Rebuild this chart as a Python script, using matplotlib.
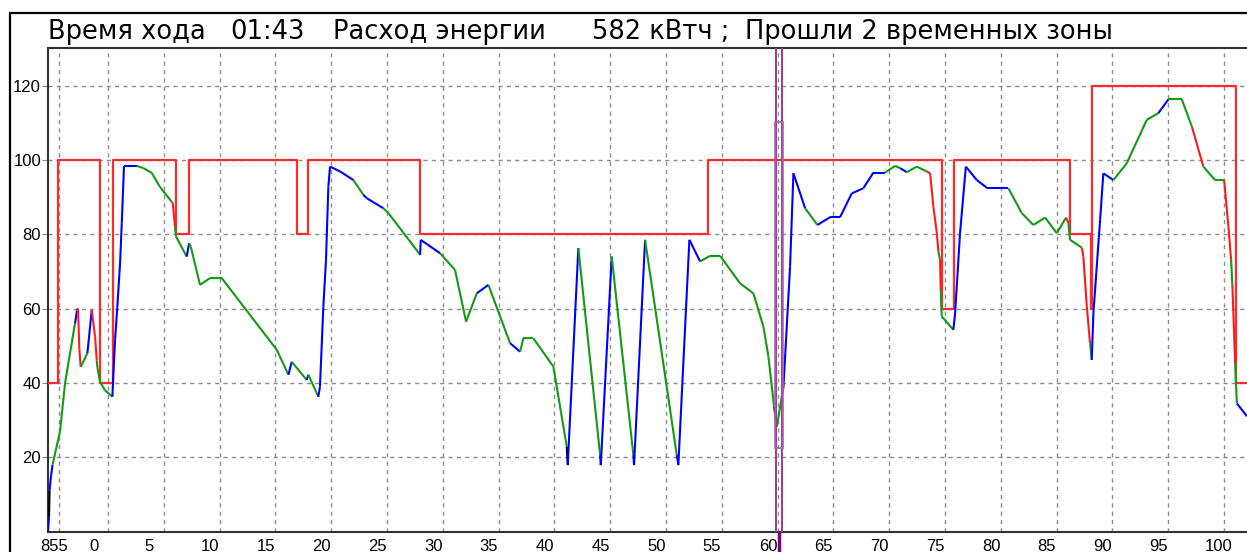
import numpy as np
import matplotlib.pyplot as plt
import matplotlib.transforms as mtransforms
from matplotlib.collections import LineCollection
from matplotlib.patches import Rectangle

plt.rcParams['font.family'] = ['Liberation Sans', 'DejaVu Sans']

# скорость поезда по пути (км, км/ч), цвет участка: b - тяга, g - выбег, r - торможение, k - прочее
km = [-5.38, -5.29, -5.24, -5.11, -4.97, -4.30, -3.85, -2.96, -2.78, -2.69,
      -2.57, -2.45, -1.85, -1.46, -1.16, -1.01, -0.96, -0.72, -0.27, 0.39,
      0.47, 0.63, 0.83, 1.08, 1.23, 1.43, 2.57, 3.16, 3.92, 4.66,
      5.71, 5.80, 6.00, 6.09, 7.05, 7.26, 7.41, 8.24, 9.14, 10.19,
      15.12, 16.16, 16.46, 17.80, 17.95, 18.84, 18.99, 19.29, 19.53, 19.74,
      19.89, 20.79, 21.98, 22.88, 23.18, 24.67, 25.12, 27.96, 28.02, 29.75,
      31.09, 32.08, 33.04, 34.08, 36.02, 36.92, 37.21, 38.11, 39.90, 41.10,
      41.19, 42.14, 44.09, 44.15, 45.13, 47.07, 47.13, 48.12, 50.96, 51.10,
      52.09, 53.05, 53.94, 54.84, 56.63, 57.82, 58.72, 59.17, 59.68, 59.92,
      60.37, 60.51, 61.11, 61.41, 62.46, 63.56, 64.70, 65.59, 66.64, 67.68,
      68.58, 69.62, 70.52, 70.97, 71.57, 72.46, 73.36, 73.66, 73.95, 74.26,
      74.40, 74.55, 74.61, 74.70, 75.74, 75.90, 76.34, 76.86, 77.84, 78.79,
      80.67, 81.87, 82.91, 83.96, 85.01, 85.84, 86.05, 86.20, 87.25, 87.39,
      87.70, 87.99, 88.14, 88.29, 88.89, 89.18, 90.08, 91.28, 93.07, 94.11,
      95.01, 96.21, 97.11, 98.14, 99.19, 100.00, 100.39, 100.63, 100.74, 100.99,
      101.14, 102.06]
speed = [0, 4, 11, 15, 18, 27, 40, 56, 59.5, 60,
         49, 44.3, 48, 59.6, 52.4, 46, 44.3, 40.3, 38, 36.3,
         41.8, 51.6, 60.4, 72.3, 83, 98.4, 98.4, 97.8, 96.5, 92.7,
         88.7, 88.4, 82, 79.4, 74, 77.6, 76.7, 66.4, 68.2, 68.2,
         48.9, 42.2, 45.7, 40.8, 42.2, 36.3, 39, 60.5, 73.1, 92.8,
         98.2, 96.9, 94.6, 90.6, 89.7, 87, 85.7, 74.5, 78.5, 74.9,
         70.4, 56.5, 64.1, 66.4, 50.7, 48.4, 52, 52, 44.4, 22.9,
         17.9, 76.3, 20.6, 17.9, 74, 20.6, 17.9, 78.5, 20.6, 17.9,
         78.5, 72.7, 74.2, 74.2, 66.8, 64.1, 55.2, 47.1, 33.6, 28.2,
         36.3, 38.6, 71.3, 96.4, 87, 82.5, 84.6, 84.6, 91, 92.4,
         96.6, 96.6, 98.4, 97.8, 96.7, 98.2, 96.9, 96.4, 87.5, 80.3,
         75.3, 73.1, 65, 57.9, 54.3, 58.8, 80.3, 98.2, 94.6, 92.4,
         92.4, 85.7, 82.5, 84.5, 80.3, 84.5, 83, 78.5, 76.4, 74,
         60.5, 50.7, 46.2, 58.8, 83.9, 96.4, 94.6, 99.1, 110.8, 112.6,
         116.3, 116.3, 109, 98.2, 94.6, 94.6, 82, 73.1, 66.4, 45.3,
         34.5, 31]
mode = ("bkbbgggbbr" "rgbrrggggb" "bbbbbbgggg" "rrggbggggg" "gbgbgbbbbb"
        "bbgbbggbbg" "ggbgbggggk" "bgbbgbbgbb" "bgggggggkg" "bbbbgbbbbb"
        "bggbggrrrr" "grggbbbbbb" "gggggrggrr" "rgbbbbgggb" "ggrggrrgrg" "b")

# ограничение скорости (ступенчатое)
limit_km = [-5.38, -4.45, -0.72, 0.42, 6.09, 7.26, 16.9, 17.9, 27.96, 53.8,
            74.7, 75.8, 86.2, 88.1, 88.15, 101.1, 102.3]
limit_val = [40, 100, 40, 100, 80, 100, 80, 100, 80, 100,
             60, 100, 80, 60, 120, 40, 40]

grid_km = [-4.39, 0, 5, 10, 15, 20, 25, 30, 35, 40, 45, 50,
           55, 60, 65, 70, 75, 80, 85, 90, 95, 100]
grid_labels = ['855', '0', '5', '10', '15', '20', '25', '30', '35', '40', '45', '50',
               '55', '60', '65', '70', '75', '80', '85', '90', '95', '100']
speed_ticks = [20, 40, 60, 80, 100, 120]
cursor_km = 60.12

colors = {'b': '#0000ff', 'g': '#139a13', 'r': '#ff1a1a', 'k': '#000000'}

W, H = 1247, 552
fig = plt.figure(figsize=(W / 100, H / 100), dpi=100)
ax = fig.add_axes([48 / W, (H - 531.6) / H, (1252 - 48) / W, (531.6 - 47.7) / H])
ax.set_xlim(-5.38, 102.5)
ax.set_ylim(0, 130.2)

# сетка
for g in grid_km:
    ax.axvline(g, color='#8c8c8c', lw=1.0, ls=(0, (3, 3)), zorder=1)
for s in speed_ticks:
    ax.axhline(s, color='#8c8c8c', lw=1.0, ls=(0, (3, 3)), zorder=1)

# ограничение
ax.step(limit_km, limit_val, where='post', color='#ff2a2a', lw=1.6, zorder=3)

# скорость
pts = np.column_stack([km, speed])
segs = np.stack([pts[:-1], pts[1:]], axis=1)
lc = LineCollection(segs, colors=[colors[m] for m in mode], linewidths=1.5, zorder=4)
ax.add_collection(lc)

# курсор
ax.axvline(cursor_km - 0.25, color='#9b3b9b', lw=1.4, zorder=5)
ax.axvline(cursor_km + 0.25, color='#9b3b9b', lw=1.4, zorder=5)
ax.add_patch(Rectangle((cursor_km - 0.38, 22.5), 0.76, 87.8, fill=False,
                       ec='#b060b0', lw=1.2, zorder=5))
ax.plot([cursor_km, cursor_km], [0, -6], color='#800080', lw=2.5,
        clip_on=False, solid_capstyle='butt', zorder=5)

ax.set_xticks(grid_km)
ax.set_xticklabels(grid_labels)
ax.set_yticks(speed_ticks)
ax.tick_params(axis='x', length=0, pad=5, labelsize=12, colors='black')
ax.tick_params(axis='y', length=4, pad=1, labelsize=12, color='#8c8c8c')
off = mtransforms.ScaledTranslation(-19 / 100, 0, fig.dpi_scale_trans)
for lab in ax.get_xticklabels():
    lab.set_horizontalalignment('left')
    lab.set_transform(lab.get_transform() + off)

for sp in ['left', 'bottom', 'top']:
    ax.spines[sp].set_color('#333333')
    ax.spines[sp].set_linewidth(1.5)
ax.spines['right'].set_visible(False)

# внешняя рамка
fig.patches.append(Rectangle((9.5 / W, -0.1), 1.2, (H - 12.5) / H + 0.1,
                             transform=fig.transFigure, fill=False, ec='black', lw=1.6))

# заголовок
title_parts = [(48, 'Время хода'), (230, '01:43'), (333, 'Расход энергии'),
               (592, '582 кВтч ;'), (745, 'Прошли 2 временных зоны')]
for px, txt in title_parts:
    fig.text(px / W, 1 - 39 / H, txt, fontsize=18.5, va='baseline', ha='left',
             color='black', family='DejaVu Sans')

fig.savefig('out.png', dpi=100)
